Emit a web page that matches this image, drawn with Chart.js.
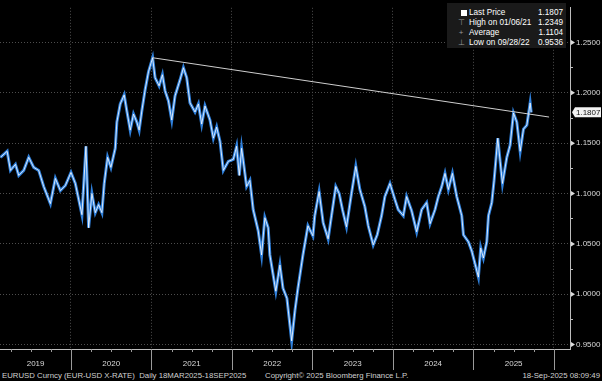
<!DOCTYPE html>
<html>
<head>
<meta charset="utf-8">
<script src="https://cdn.jsdelivr.net/npm/chart.js@4.4.1/dist/chart.umd.min.js"></script>
<style>
  body { margin: 0; background: #000; width: 602px; height: 381px; overflow: hidden; position: relative; font-family: "Liberation Sans", Arial, sans-serif; }
  #c { position: absolute; left: 0; top: 0; }
  #legend { position: absolute; left: 447px; top: 3px; width: 119px; height: 45px; background: #1a1a1a; color: #fff; font-size: 8.2px; }
  .row { position: absolute; left: 0; width: 116px; height: 10px; line-height: 10px; }
  .ic { position: absolute; left: 9px; width: 10px; text-align: center; color: #999; font-size: 8px; }
  .sq { position: absolute; left: 14px; top: 2px; width: 6px; height: 6px; background: #fff; }
  .lb { position: absolute; left: 22px; }
  .vl { position: absolute; right: 0; }
  .foot { position: absolute; top: 370px; height: 11px; line-height: 11px; font-family: "Liberation Sans Narrow", "Liberation Sans", Arial, sans-serif; font-size: 7.8px; color: #d0d0d0; white-space: nowrap; }
</style>
</head>
<body>
<canvas id="c" width="602" height="370"></canvas>
<div id="legend"></div>
<div class="foot" style="left:2px">EURUSD Curncy (EUR-USD X-RATE)&nbsp; Daily 18MAR2025-18SEP2025</div>
<div class="foot" style="left:265px">Copyright© 2025 Bloomberg Finance L.P.</div>
<div class="foot" style="right:2px">18-Sep-2025 08:09:49</div>
<script>
// EURUSD (decimal years)
const dates = [
  2019.124, 2019.207, 2019.248, 2019.310, 2019.351, 2019.413, 2019.475, 2019.537, 2019.599, 2019.661,
  2019.744, 2019.806, 2019.868, 2019.930, 2020.000, 2020.054, 2020.136, 2020.186, 2020.219, 2020.260,
  2020.302, 2020.343, 2020.384, 2020.413, 2020.455, 2020.496, 2020.550, 2020.570, 2020.612, 2020.661,
  2020.694, 2020.736, 2020.777, 2020.818, 2020.847, 2020.880, 2020.921, 2020.963, 2021.014, 2021.045,
  2021.095, 2021.136, 2021.169, 2021.211, 2021.252, 2021.293, 2021.355, 2021.397, 2021.438, 2021.479,
  2021.541, 2021.583, 2021.624, 2021.665, 2021.727, 2021.769, 2021.810, 2021.851, 2021.893, 2021.955,
  2022.017, 2022.058, 2022.091, 2022.120, 2022.182, 2022.223, 2022.264, 2022.326, 2022.368, 2022.409,
  2022.450, 2022.471, 2022.512, 2022.545, 2022.596, 2022.634, 2022.683, 2022.742, 2022.783, 2022.820,
  2022.882, 2022.944, 2023.006, 2023.029, 2023.083, 2023.133, 2023.195, 2023.237, 2023.290, 2023.332,
  2023.373, 2023.423, 2023.485, 2023.539, 2023.589, 2023.651, 2023.693, 2023.755, 2023.805, 2023.859,
  2023.900, 2023.963, 2024.025, 2024.066, 2024.129, 2024.170, 2024.232, 2024.295, 2024.357, 2024.419,
  2024.461, 2024.523, 2024.564, 2024.606, 2024.647, 2024.689, 2024.739, 2024.793, 2024.855, 2024.876,
  2024.938, 2024.979, 2025.021, 2025.062, 2025.091, 2025.124, 2025.166, 2025.187, 2025.228, 2025.257,
  2025.303, 2025.332, 2025.361, 2025.415, 2025.456, 2025.498, 2025.539, 2025.581, 2025.622, 2025.664,
  2025.705, 2025.718
];
const prices = [
  1.136, 1.142, 1.123, 1.129, 1.118, 1.123, 1.136, 1.126, 1.123, 1.107,
  1.090, 1.115, 1.103, 1.108, 1.121, 1.110, 1.079, 1.147, 1.066, 1.100,
  1.081, 1.089, 1.081, 1.110, 1.136, 1.126, 1.145, 1.171, 1.189, 1.198,
  1.182, 1.163, 1.179, 1.171, 1.163, 1.182, 1.203, 1.221, 1.2349, 1.215,
  1.207, 1.218, 1.202, 1.192, 1.173, 1.197, 1.213, 1.225, 1.215, 1.190,
  1.181, 1.189, 1.169, 1.187, 1.173, 1.155, 1.166, 1.152, 1.123, 1.132,
  1.134, 1.147, 1.118, 1.145, 1.107, 1.113, 1.084, 1.063, 1.039, 1.076,
  1.066, 1.039, 1.019, 1.003, 1.029, 1.006, 0.996, 0.9536, 0.984, 1.006,
  1.039, 1.068, 1.058, 1.078, 1.102, 1.071, 1.055, 1.078, 1.107, 1.100,
  1.084, 1.067, 1.100, 1.127, 1.104, 1.087, 1.068, 1.049, 1.059, 1.078,
  1.097, 1.110, 1.094, 1.084, 1.078, 1.097, 1.083, 1.062, 1.084, 1.091,
  1.070, 1.084, 1.097, 1.107, 1.120, 1.104, 1.120, 1.097, 1.078, 1.059,
  1.052, 1.043, 1.030, 1.017, 1.046, 1.036, 1.052, 1.078, 1.091, 1.113,
  1.155, 1.132, 1.110, 1.136, 1.148, 1.180, 1.171, 1.142, 1.164, 1.168,
  1.190, 1.1807
];

// trend line from the Jan 2021 high
const trendDates = [2021.014, 2025.94];
const trendValues = [1.2349, 1.176];

const yearBreaks = [2020, 2021, 2022, 2023, 2024, 2025, 2026];
const yearLabelPos = [2019.56, 2020.5, 2021.5, 2022.5, 2023.5, 2024.5, 2025.5];
const yearLabels = ['2019', '2020', '2021', '2022', '2023', '2024', '2025'];
const yTicks = [0.95, 0.975, 1.0, 1.025, 1.05, 1.075, 1.1, 1.125, 1.15, 1.175, 1.2, 1.225, 1.25];

const legendRows = [
  ['sq', 'Last Price', '1.1807'],
  ['\u22a4', 'High on 01/06/21', '1.2349'],
  ['+', 'Average', '1.1104'],
  ['\u22a5', 'Low on 09/28/22', '0.9536']
];
const lastPrice = 1.1807;

const lg = document.getElementById('legend');
legendRows.forEach(function(r, i) {
  const d = document.createElement('div');
  d.className = 'row';
  d.style.top = (5 + i * 10) + 'px';
  const ic = r[0] === 'sq' ? '<span class="sq"></span>' : '<span class="ic">' + r[0] + '</span>';
  d.innerHTML = ic + '<span class="lb">' + r[1] + '</span><span class="vl">' + r[2] + '</span>';
  lg.appendChild(d);
});

const isMajorY = v => Math.round(v * 1000) % 50 === 0;

const extras = {
  id: 'extras',
  afterDraw(chart) {
    const ctx = chart.ctx;
    const x = chart.scales.x, y = chart.scales.y;
    const ca = chart.chartArea;
    ctx.save();
    // year separators in the axis band
    ctx.strokeStyle = '#9a9a9a';
    ctx.lineWidth = 1;
    yearBreaks.forEach(function(v) {
      const px = Math.round(x.getPixelForValue(v)) + 0.5;
      ctx.beginPath(); ctx.moveTo(px, ca.bottom); ctx.lineTo(px, chart.height); ctx.stroke();
    });
    // quarter ticks
    for (let yr = 2019; yr < 2026; yr++) {
      [0.25, 0.5, 0.75].forEach(function(q) {
        const v = yr + q;
        if (v < x.min) return;
        const px = Math.round(x.getPixelForValue(v)) + 0.5;
        ctx.beginPath(); ctx.moveTo(px, ca.bottom); ctx.lineTo(px, ca.bottom + 3); ctx.stroke();
      });
    }
    // small arrow markers on major y ticks
    ctx.fillStyle = '#ddd';
    yTicks.filter(isMajorY).forEach(function(v) {
      const py = y.getPixelForValue(v);
      ctx.beginPath();
      ctx.moveTo(ca.right + 1, py - 2.5); ctx.lineTo(ca.right + 5, py); ctx.lineTo(ca.right + 1, py + 2.5);
      ctx.closePath(); ctx.fill();
    });
    // last price tag
    const py = y.getPixelForValue(lastPrice);
    ctx.fillStyle = '#f2f2f2';
    ctx.beginPath();
    ctx.moveTo(ca.right + 2, py);
    ctx.lineTo(ca.right + 5, py - 5);
    ctx.lineTo(chart.width - 1, py - 5);
    ctx.lineTo(chart.width - 1, py + 5);
    ctx.lineTo(ca.right + 5, py + 5);
    ctx.closePath(); ctx.fill();
    ctx.fillStyle = '#111';
    ctx.font = '8px "Liberation Sans", Arial, sans-serif';
    ctx.textBaseline = 'middle';
    ctx.textAlign = 'left';
    ctx.fillText(lastPrice.toFixed(4), ca.right + 6, py + 0.5);
    ctx.restore();
  }
};

const pts = dates.map((d, i) => ({ x: d, y: prices[i] }));

new Chart(document.getElementById('c'), {
  type: 'line',
  data: {
    datasets: [
      { label: 'Trend', data: trendDates.map((d, i) => ({ x: d, y: trendValues[i] })), borderColor: '#cfcfcf', borderWidth: 1, pointRadius: 0 },
      { label: 'EURUSD white', data: pts, borderColor: 'rgba(255,255,255,0.9)', borderWidth: 0.9, pointRadius: 0, tension: 0 },
      { label: 'EURUSD', data: pts, borderColor: '#2f80dc', borderWidth: 3, pointRadius: 0, tension: 0 }
    ]
  },
  options: {
    responsive: false,
    animation: false,
    events: [],
    layout: { padding: 0 },
    plugins: { legend: { display: false }, tooltip: { enabled: false } },
    scales: {
      x: {
        type: 'linear',
        min: 2019.118,
        max: 2026.2,
        afterBuildTicks: s => { s.ticks = yearBreaks.concat(yearLabelPos).map(v => ({ value: v })); },
        afterFit: s => { s.height = 21; },
        grid: {
          drawTicks: false,
          color: c => (c.tick && Number.isInteger(c.tick.value)) ? '#4d4d4d' : 'transparent'
        },
        border: { color: '#bdbdbd', width: 1, dash: [1, 2] },
        ticks: {
          padding: 10,
          autoSkip: false,
          maxRotation: 0,
          color: '#d8d8d8',
          font: { family: '"Liberation Sans", Arial, sans-serif', size: 8 },
          callback: v => { const i = yearLabelPos.indexOf(v); return i >= 0 ? yearLabels[i] : ''; }
        }
      },
      y: {
        position: 'right',
        min: 0.9456,
        max: 1.2845,
        afterBuildTicks: s => { s.ticks = yTicks.map(v => ({ value: v })); },
        afterFit: s => { s.width = 32; },
        grid: {
          tickLength: 3,
          tickColor: '#bdbdbd',
          tickBorderDash: [],
          color: c => (c.tick && isMajorY(c.tick.value)) ? '#4d4d4d' : 'transparent'
        },
        border: { color: '#bdbdbd', width: 1, dash: [1, 2] },
        ticks: {
          padding: 3,
          color: '#d8d8d8',
          font: { family: '"Liberation Sans", Arial, sans-serif', size: 8 },
          callback: v => isMajorY(v) ? v.toFixed(4) : ''
        }
      }
    }
  },
  plugins: [extras]
});
</script>
</body>
</html>
